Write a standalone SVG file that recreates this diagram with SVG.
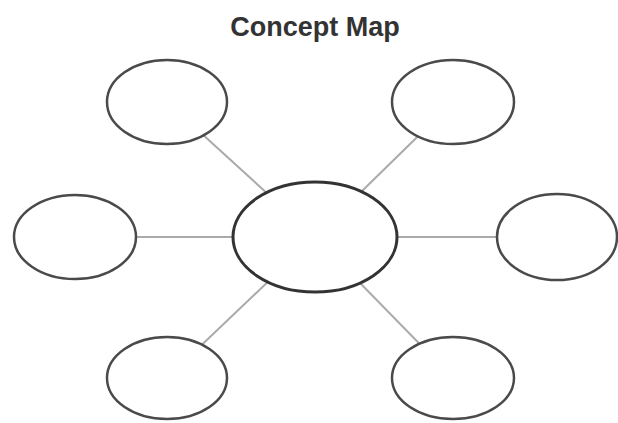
<svg xmlns="http://www.w3.org/2000/svg" width="618" height="423" viewBox="0 0 618 423">
<style>
.node{fill:#fff;stroke:#4a4a4a;stroke-width:2.5}
.hub{fill:#fff;stroke:#333;stroke-width:3}
.link{stroke:#aaa;stroke-width:2;fill:none}
.title{font-family:"Liberation Sans",Arial,sans-serif;font-weight:bold;font-size:27px;fill:#333}
</style>
<rect width="618" height="423" fill="#fff"/>
<text class="title" x="315" y="36" text-anchor="middle">Concept Map</text>
<g id="connectors">
<line class="link" x1="315" y1="237" x2="167" y2="102"/>
<line class="link" x1="315" y1="237" x2="453" y2="102"/>
<line class="link" x1="315" y1="237" x2="75" y2="237"/>
<line class="link" x1="315" y1="237" x2="557" y2="237"/>
<line class="link" x1="315" y1="237" x2="167" y2="378"/>
<line class="link" x1="315" y1="237" x2="453" y2="378"/>
</g>
<g id="node-top-left"><ellipse class="node" cx="167" cy="102" rx="60" ry="42"/></g>
<g id="node-top-right"><ellipse class="node" cx="453" cy="102" rx="61" ry="42"/></g>
<g id="node-left"><ellipse class="node" cx="75" cy="237" rx="61" ry="42"/></g>
<g id="node-right"><ellipse class="node" cx="557" cy="237" rx="60" ry="43"/></g>
<g id="node-bottom-left"><ellipse class="node" cx="167" cy="378" rx="60" ry="41"/></g>
<g id="node-bottom-right"><ellipse class="node" cx="453" cy="378" rx="61" ry="41"/></g>
<g id="node-center"><ellipse class="hub" cx="315" cy="237" rx="82" ry="55"/></g>
</svg>
